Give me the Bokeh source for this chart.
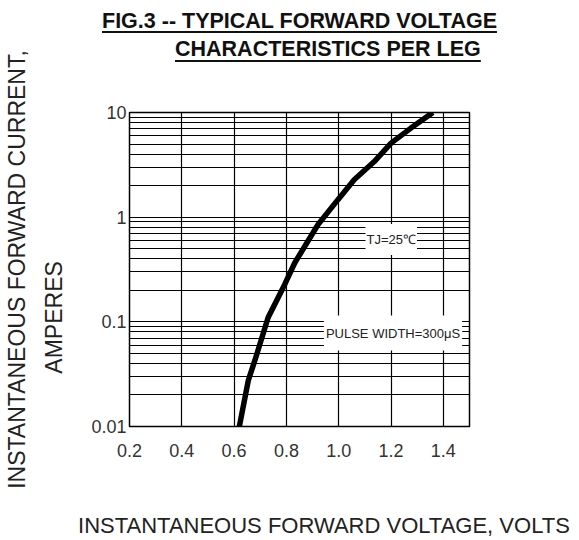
from bokeh.plotting import figure
from bokeh.models import Label, FixedTicker, NumeralTickFormatter, LogAxis, Div
from bokeh.layouts import column
from bokeh.embed import file_html
from bokeh.resources import INLINE

# Data
voltage = [0.62, 0.654, 0.679, 0.73, 0.794, 0.832, 0.921, 0.997, 1.06, 1.136, 1.2, 1.276, 1.36]
current = [0.01, 0.0274, 0.0425, 0.11, 0.229, 0.367, 0.85, 1.47, 2.29, 3.4, 5.1, 7.1, 10.0]

x_ticks = [0.2, 0.4, 0.6, 0.8, 1.0, 1.2, 1.4]
y_ticks = [0.01, 0.1, 1, 10]
y_minor = [m * d for d in [0.01, 0.1, 1] for m in range(2, 10)]

title1 = "FIG.3 -- TYPICAL FORWARD VOLTAGE"
title2 = "CHARACTERISTICS PER LEG"
ylabel1 = "INSTANTANEOUS FORWARD CURRENT,"
ylabel2 = "AMPERES"
xlabel = "INSTANTANEOUS FORWARD VOLTAGE,  VOLTS"
note_tj = "TJ=25\u2103"
note_pw = "PULSE WIDTH=300\u03bcS"

NB = "\u00a0"

line_style = ("position:absolute;font-family:'Liberation Sans';font-weight:bold;"
              "font-size:21.5px;line-height:20px;color:#111;white-space:pre;"
              "text-decoration:underline;text-decoration-thickness:2.3px;")
title_html = (
    '<div style="position:relative;width:579px;height:60px;">'
    '<div style="' + line_style + 'left:102px;top:11px;text-underline-offset:3px;">'
    + title1 + '</div>'
    '<div style="' + line_style + 'left:175px;top:39px;text-underline-offset:4px;">'
    + title2 + '</div>'
    '</div>'
)
header = Div(text=title_html, width=579, height=60, margin=(0, 0, -60, 0))

p = figure(width=579, height=540, x_range=(0.2, 1.5), y_range=(0.01, 10),
           y_axis_type="log", output_backend="svg", toolbar_location=None,
           min_border_left=128, min_border_right=110, min_border_top=112,
           min_border_bottom=114)

p.background_fill_color = "white"
p.border_fill_color = None
p.outline_line_color = "black"
p.outline_line_width = 1.5

p.xaxis.ticker = FixedTicker(ticks=x_ticks)
p.yaxis.ticker = FixedTicker(ticks=y_ticks, minor_ticks=y_minor)
p.xaxis.formatter = NumeralTickFormatter(format="0.0")
p.yaxis.formatter = NumeralTickFormatter(format="0.[00]")

outer = LogAxis(ticker=FixedTicker(ticks=[]), axis_label=ylabel1)
p.add_layout(outer, "left")

for ax in (p.xaxis[0], p.yaxis[0], outer):
    ax.axis_line_color = None
    ax.major_tick_line_color = None
    ax.minor_tick_line_color = None
    ax.major_tick_out = 0
    ax.minor_tick_out = 0
    ax.major_label_text_font = "Liberation Sans"
    ax.major_label_text_font_size = "18px"
    ax.major_label_text_color = "#333333"
    ax.axis_label_text_font = "Liberation Sans"
    ax.axis_label_text_font_style = "normal"
    ax.axis_label_text_color = "#222222"
p.xaxis.major_label_standoff = 17
p.yaxis[0].major_label_standoff = 3
outer.major_label_standoff = 0
outer.axis_label_standoff = 9
outer.axis_label_text_font_size = "23px"

p.yaxis[0].axis_label = ylabel2 + NB * 15
p.yaxis[0].axis_label_text_font_size = "23px"
p.yaxis[0].axis_label_standoff = 21

p.xaxis.axis_label = NB * 9 + xlabel
p.xaxis.axis_label_text_font_size = "22px"
p.xaxis.axis_label_standoff = 53

p.xgrid.grid_line_color = "black"
p.xgrid.grid_line_width = 1.2
p.ygrid.grid_line_color = "black"
p.ygrid.grid_line_width = 1.2
p.ygrid.minor_grid_line_color = "black"
p.ygrid.minor_grid_line_width = 1.2

p.line(voltage, current, line_color="black", line_width=5.5)

# annotation boxes (padding: left, right, top, bottom)
p.add_layout(Label(x=1.2008, y=0.612, text=note_tj, text_align="center",
                   text_baseline="middle", text_font="Liberation Sans",
                   text_font_size="13px", text_color="#222222",
                   background_fill_color="white", padding=(1, 1, 8, 8)))
p.add_layout(Label(x=1.2076, y=0.0782, text=note_pw, text_align="center",
                   text_baseline="middle", text_font="Liberation Sans",
                   text_font_size="13px", text_color="#222222",
                   background_fill_color="white", padding=(2, 2, 10, 10)))

layout = column(header, p, spacing=0)
open("out.html", "w").write(file_html(layout, INLINE))
